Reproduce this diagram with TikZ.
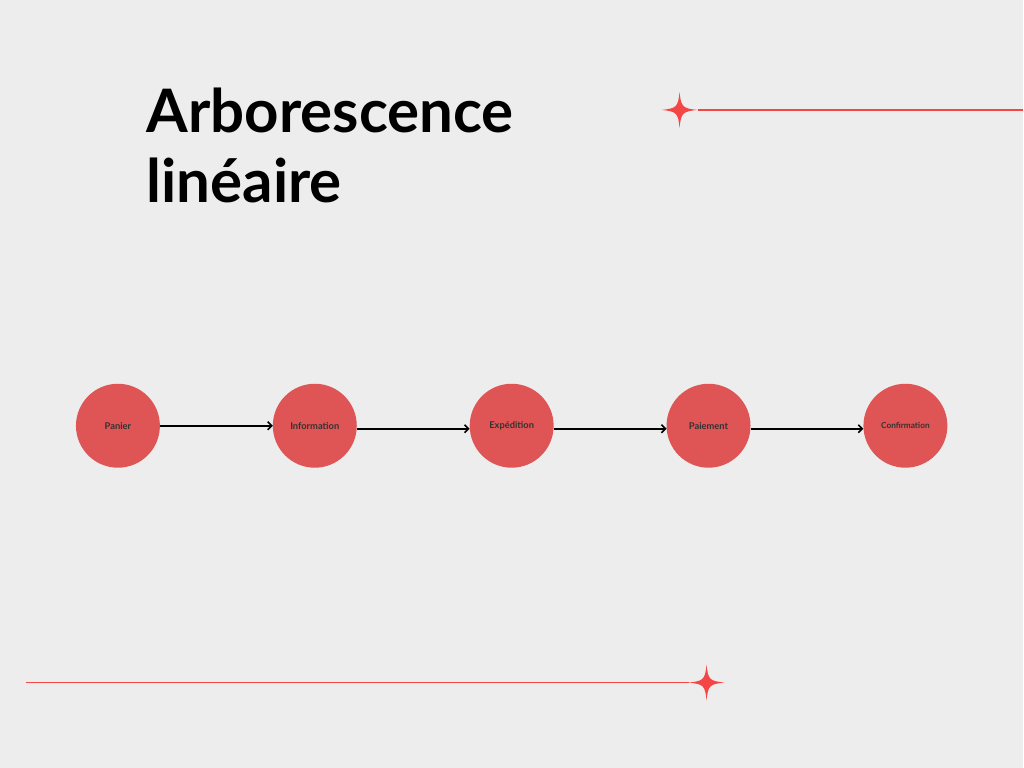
\documentclass[tikz,border=0pt]{standalone}
\usepackage{fontspec}
\setmainfont{Lato}
\usepackage{tikz}
\usetikzlibrary{positioning,arrows.meta}
\definecolor{fond}{HTML}{EDEDED}
\definecolor{rouge}{HTML}{DF5454}
\definecolor{etoile}{HTML}{F44646}
\definecolor{texte}{HTML}{333333}
\tikzstyle{etape} = [circle, minimum size = 63pt, inner sep = 0pt, outer sep = 0pt, fill = rouge, text = texte, font = \fontsize{7}{8}\selectfont\bfseries]
\tikzstyle{arrow} = [line width = 1.2pt, -{Straight Barb[length=3pt,width=6pt]}]
\tikzstyle{trait} = [draw = etoile, line width = 1pt]

\begin{document}
\begin{tikzpicture}[x = 0.75pt, y = -0.75pt, node distance = 147.75pt]

\fill[fond] (0,0) rectangle (1024,768);

\node(titre) [anchor = base west, align = left, font = \fontsize{45}{52.5}\selectfont\bfseries] at (142,203) {Arborescence\\lin\'eaire};

\node(panier) [etape] at (118,426) {Panier};
\node(information) [etape, right of = panier] {Information};
\node(expedition) [etape, right of = information] {Exp\'edition};
\node(paiement) [etape, right of = expedition] {Paiement};
\node(confirmation) [etape, right of = paiement, font = \fontsize{6.2}{7}\selectfont\bfseries] {Confirmation};

\draw [arrow] (panier) -- (information);
\draw [arrow] ([yshift=-2.25pt]information.east) -- ([yshift=-2.25pt]expedition.west);
\draw [arrow] ([yshift=-2.25pt]expedition.east) -- ([yshift=-2.25pt]paiement.west);
\draw [arrow] ([yshift=-2.25pt]paiement.east) -- ([yshift=-2.25pt]confirmation.west);

% etoiles et traits
\coordinate (etoilehaut) at (680,110);
\coordinate (etoilebas) at (707,683);
\fill[etoile] (etoilehaut) ++(0,-18) .. controls +(1.5,15) and +(-15,-1.5) .. ++(18,18) .. controls +(-15,1.5) and +(1.5,-15) .. ++(-18,18) .. controls +(-1.5,-15) and +(15,1.5) .. ++(-18,-18) .. controls +(15,-1.5) and +(-1.5,15) .. cycle;
\fill[etoile] (etoilebas) ++(0,-18) .. controls +(1.5,15) and +(-15,-1.5) .. ++(18,18) .. controls +(-15,1.5) and +(1.5,-15) .. ++(-18,18) .. controls +(-1.5,-15) and +(15,1.5) .. ++(-18,-18) .. controls +(15,-1.5) and +(-1.5,15) .. cycle;
\draw [trait] ([xshift=13.5pt]etoilehaut) -- (1024,110);
\draw [trait] (26,683) -- ([xshift=-13.5pt]etoilebas);

\end{tikzpicture}
\end{document}
